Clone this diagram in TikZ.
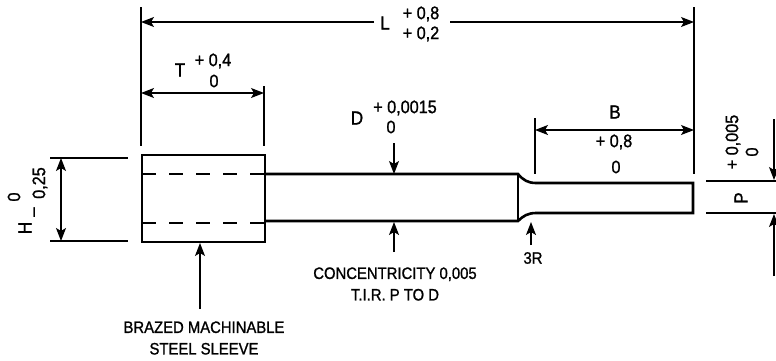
\documentclass[tikz,border=0pt]{standalone}
\usepackage{fontspec}
\setmainfont{Liberation Sans}
\newfontfamily\heavy[FakeBold=1.2]{Liberation Sans}
\usetikzlibrary{arrows.meta}
\tikzset{
  dimline/.style={line width=1.2pt,-{Stealth[length=13pt,width=10pt,inset=3pt]}},
  dimboth/.style={line width=1.2pt,{Stealth[length=13pt,width=10pt,inset=3pt]}-{Stealth[length=13pt,width=10pt,inset=3pt]}},
  extline/.style={line width=1.2pt},
  outline/.style={line width=2.6pt},
  hidden/.style={line width=1.2pt,dash pattern=on 14pt off 13pt},
  big/.style={inner sep=0pt,font=\heavy\fontsize{19}{20}\selectfont,xscale=.9,transform shape},
  tol/.style={inner sep=0pt,font=\heavy\fontsize{18}{19}\selectfont,xscale=.9,transform shape},
  note/.style={inner sep=0pt,align=center,font=\heavy\fontsize{16.5}{21.5}\selectfont,xscale=.9,transform shape},
  vbig/.style={inner sep=0pt,rotate=90,font=\heavy\fontsize{19}{20}\selectfont,xscale=.9,transform shape},
  vtol/.style={inner sep=0pt,rotate=90,font=\heavy\fontsize{18}{19}\selectfont,xscale=.9,transform shape}
}
\begin{document}
\begin{tikzpicture}[x=1pt,y=-1pt]
\useasboundingbox (0,0) rectangle (776,360);
% named points
\coordinate (LLt) at (141,7); \coordinate (LLb) at (141,146);
\coordinate (LRt) at (694,7); \coordinate (LRb) at (694,174);
\coordinate (La) at (141,22); \coordinate (Lb) at (374,22);
\coordinate (Lc) at (450,22); \coordinate (Ld) at (694,22);
\coordinate (Tt) at (264,86); \coordinate (Tb) at (264,146);
\coordinate (Ta) at (141,93); \coordinate (Tc) at (264,93);
\coordinate (Bt) at (535,118); \coordinate (Bb) at (535,174);
\coordinate (Ba) at (535,130); \coordinate (Bc) at (694,130);
\coordinate (Hu1) at (50,158); \coordinate (Hu2) at (128,158);
\coordinate (Hl1) at (50,241); \coordinate (Hl2) at (128,241);
\coordinate (Ha) at (61,158); \coordinate (Hb) at (61,241);
\coordinate (Pu1) at (706,181); \coordinate (Pu2) at (776,181);
\coordinate (Pl1) at (706,213); \coordinate (Pl2) at (776,213);
\coordinate (Pa) at (774,119); \coordinate (Pb) at (774,180);
\coordinate (Pc) at (774,276); \coordinate (Pd) at (774,214);
\coordinate (Da) at (394,143); \coordinate (Db) at (394,174);
\coordinate (Dc) at (394,252); \coordinate (Dd) at (394,222);
\coordinate (Sa) at (200,309); \coordinate (Sb) at (200,243);
\coordinate (Ra) at (531,245); \coordinate (Rb) at (531,222);
% part outline
\draw[outline] (142,155) rectangle (265,242);
\draw[outline] (265,174) -- (518,174) .. controls (523,180) and (528,183) .. (536,183) -- (693,183) -- (693,213) -- (536,213) .. controls (528,213) and (523,216) .. (518,221) -- (265,221);
\draw[outline] (518,174) -- (518,221);
\draw[hidden] (142,174) -- (264,174);
\draw[hidden] (142,223) -- (264,223);
% extension lines
\draw[extline] (LLt) -- (LLb);
\draw[extline] (LRt) -- (LRb);
\draw[extline] (Tt) -- (Tb);
\draw[extline] (Bt) -- (Bb);
\draw[extline] (Hu1) -- (Hu2);
\draw[extline] (Hl1) -- (Hl2);
\draw[extline] (Pu1) -- (Pu2);
\draw[extline] (Pl1) -- (Pl2);
% dimensions
\draw[dimline] (Lb) -- (La);
\draw[dimline] (Lc) -- (Ld);
\draw[dimboth] (Ta) -- (Tc);
\draw[dimboth] (Ba) -- (Bc);
\draw[dimboth] (Ha) -- (Hb);
\draw[dimline] (Pa) -- (Pb);
\draw[dimline] (Pc) -- (Pd);
\draw[dimline] (Da) -- (Db);
\draw[dimline] (Dc) -- (Dd);
\draw[dimline] (Sa) -- (Sb);
\draw[dimline] (Ra) -- (Rb);
% labels
\node[big] (nL) at (385,23) {L};
\node[tol] (nL1) at (421,14) {+ 0,8};
\node[tol] (nL2) at (421,34) {+ 0,2};
\node[big] (nT) at (180,70) {T};
\node[tol] (nT1) at (213,61) {+ 0,4};
\node[tol] (nT2) at (214,81) {0};
\node[big] (nD) at (357,118) {D};
\node[tol] (nD1) at (405,108) {+ 0,0015};
\node[tol] (nD2) at (391,127) {0};
\node[big] (nB) at (615,112) {B};
\node[tol] (nB1) at (614,142) {+ 0,8};
\node[tol] (nB2) at (616,167) {0};
\node[vbig] (nH) at (25,228) {H};
\node[vtol] (nH1) at (40,183) {0,25};
\node[vtol] (nH2) at (33,212) {\_};
\node[vtol] (nH3) at (14,197) {0};
\node[vbig] (nP) at (741,198) {P};
\node[vtol] (nP1) at (733,142) {+ 0,005};
\node[vtol] (nP2) at (752,152) {0};
\node[note] (nC) at (395,284) {CONCENTRICITY 0,005\\T.I.R. P TO D};
\node[note] (nS) at (204,338) {BRAZED MACHINABLE\\STEEL SLEEVE};
\node[note] (nR) at (533,258) {3R};
\end{tikzpicture}
\end{document}
